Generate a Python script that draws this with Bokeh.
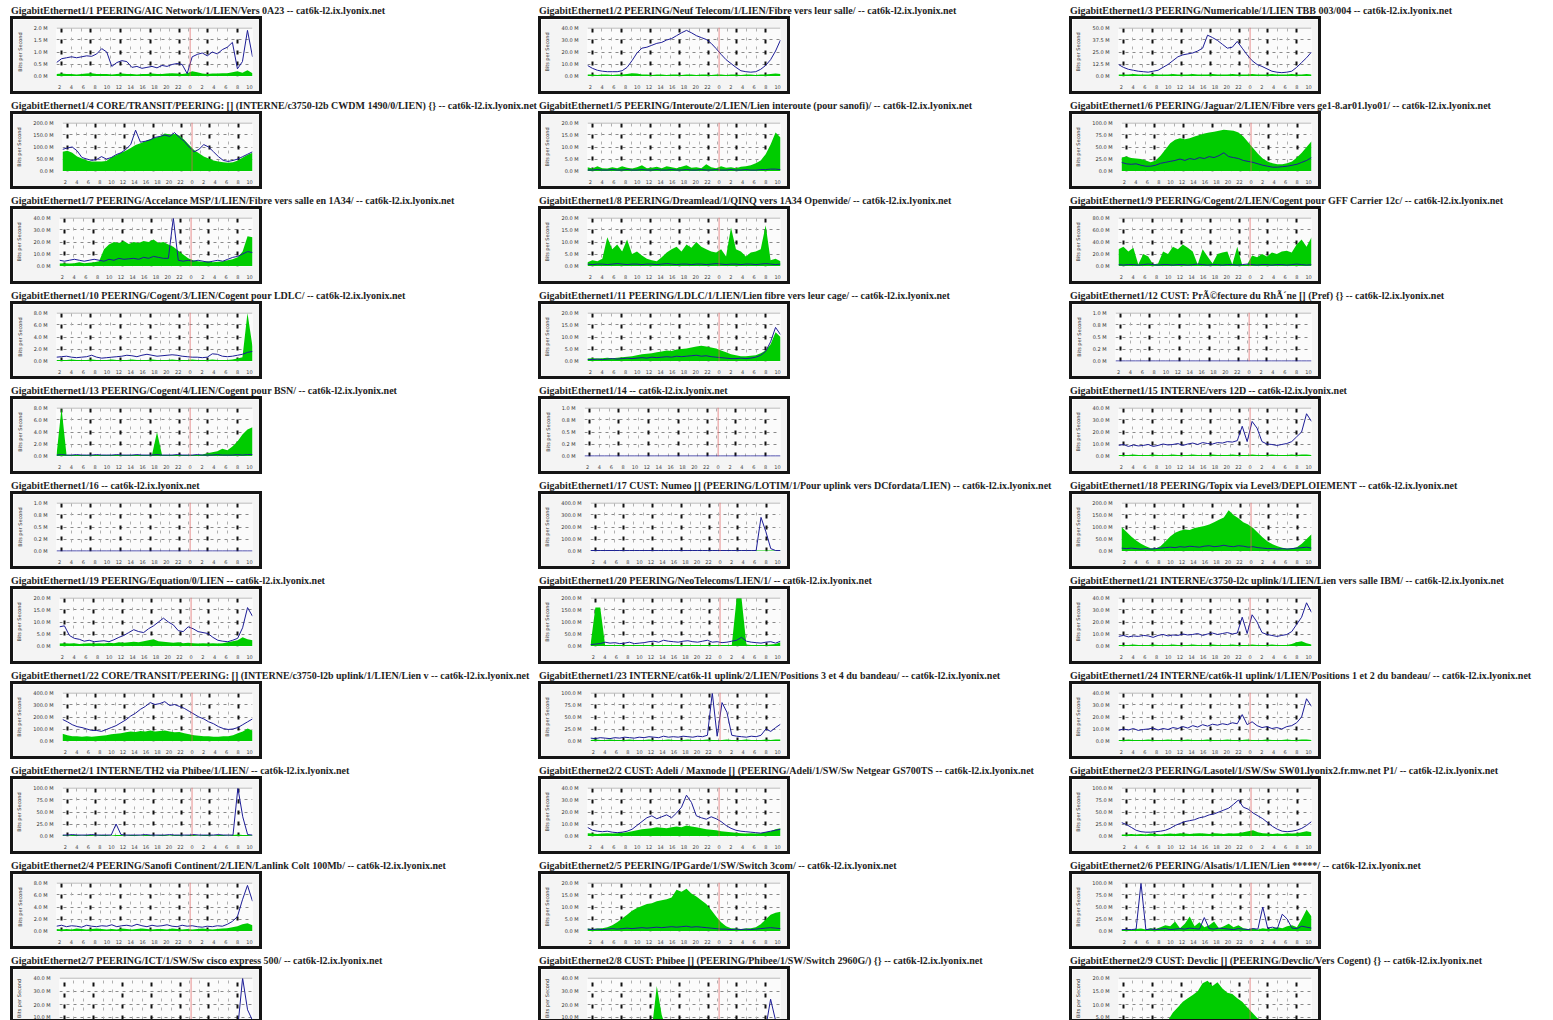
import numpy as np
from bokeh.plotting import figure
from bokeh.layouts import column, row, Spacer
from bokeh.models import Range1d, FixedTicker, Span, Grid, Div
from bokeh.embed import file_html
from bokeh.resources import INLINE

# ---------------- data ----------------
titles = [
    "GigabitEthernet1/1 PEERING/AIC Network/1/LIEN/Vers 0A23 -- cat6k-l2.ix.lyonix.net",
    "GigabitEthernet1/2 PEERING/Neuf Telecom/1/LIEN/Fibre vers leur salle/ -- cat6k-l2.ix.lyonix.net",
    "GigabitEthernet1/3 PEERING/Numericable/1/LIEN TBB 003/004 -- cat6k-l2.ix.lyonix.net",
    "GigabitEthernet1/4 CORE/TRANSIT/PEERING: [] (INTERNE/c3750-l2b CWDM 1490/0/LIEN) {} -- cat6k-l2.ix.lyonix.net",
    "GigabitEthernet1/5 PEERING/Interoute/2/LIEN/Lien interoute (pour sanofi)/ -- cat6k-l2.ix.lyonix.net",
    "GigabitEthernet1/6 PEERING/Jaguar/2/LIEN/Fibre vers ge1-8.ar01.lyo01/ -- cat6k-l2.ix.lyonix.net",
    "GigabitEthernet1/7 PEERING/Accelance MSP/1/LIEN/Fibre vers salle en 1A34/ -- cat6k-l2.ix.lyonix.net",
    "GigabitEthernet1/8 PEERING/Dreamlead/1/QINQ vers 1A34 Openwide/ -- cat6k-l2.ix.lyonix.net",
    "GigabitEthernet1/9 PEERING/Cogent/2/LIEN/Cogent pour GFF Carrier 12c/ -- cat6k-l2.ix.lyonix.net",
    "GigabitEthernet1/10 PEERING/Cogent/3/LIEN/Cogent pour LDLC/ -- cat6k-l2.ix.lyonix.net",
    "GigabitEthernet1/11 PEERING/LDLC/1/LIEN/Lien fibre vers leur cage/ -- cat6k-l2.ix.lyonix.net",
    "GigabitEthernet1/12 CUST: PrÃ©fecture du RhÃ´ne [] (Pref) {} -- cat6k-l2.ix.lyonix.net",
    "GigabitEthernet1/13 PEERING/Cogent/4/LIEN/Cogent pour BSN/ -- cat6k-l2.ix.lyonix.net",
    "GigabitEthernet1/14 -- cat6k-l2.ix.lyonix.net",
    "GigabitEthernet1/15 INTERNE/vers 12D -- cat6k-l2.ix.lyonix.net",
    "GigabitEthernet1/16 -- cat6k-l2.ix.lyonix.net",
    "GigabitEthernet1/17 CUST: Numeo [] (PEERING/LOTIM/1/Pour uplink vers DCfordata/LIEN) -- cat6k-l2.ix.lyonix.net",
    "GigabitEthernet1/18 PEERING/Topix via Level3/DEPLOIEMENT -- cat6k-l2.ix.lyonix.net",
    "GigabitEthernet1/19 PEERING/Equation/0/LIEN -- cat6k-l2.ix.lyonix.net",
    "GigabitEthernet1/20 PEERING/NeoTelecoms/LIEN/1/ -- cat6k-l2.ix.lyonix.net",
    "GigabitEthernet1/21 INTERNE/c3750-l2c uplink/1/LIEN/Lien vers salle IBM/ -- cat6k-l2.ix.lyonix.net",
    "GigabitEthernet1/22 CORE/TRANSIT/PEERING: [] (INTERNE/c3750-l2b uplink/1/LIEN/Lien v -- cat6k-l2.ix.lyonix.net",
    "GigabitEthernet1/23 INTERNE/cat6k-l1 uplink/2/LIEN/Positions 3 et 4 du bandeau/ -- cat6k-l2.ix.lyonix.net",
    "GigabitEthernet1/24 INTERNE/cat6k-l1 uplink/1/LIEN/Positions 1 et 2 du bandeau/ -- cat6k-l2.ix.lyonix.net",
    "GigabitEthernet2/1 INTERNE/TH2 via Phibee/1/LIEN/ -- cat6k-l2.ix.lyonix.net",
    "GigabitEthernet2/2 CUST: Adeli / Maxnode [] (PEERING/Adeli/1/SW/Sw Netgear GS700TS -- cat6k-l2.ix.lyonix.net",
    "GigabitEthernet2/3 PEERING/Lasotel/1/SW/Sw SW01.lyonix2.fr.mw.net P1/ -- cat6k-l2.ix.lyonix.net",
    "GigabitEthernet2/4 PEERING/Sanofi Continent/2/LIEN/Lanlink Colt 100Mb/ -- cat6k-l2.ix.lyonix.net",
    "GigabitEthernet2/5 PEERING/IPGarde/1/SW/Switch 3com/ -- cat6k-l2.ix.lyonix.net",
    "GigabitEthernet2/6 PEERING/Alsatis/1/LIEN/Lien *****/ -- cat6k-l2.ix.lyonix.net",
    "GigabitEthernet2/7 PEERING/ICT/1/SW/Sw cisco express 500/ -- cat6k-l2.ix.lyonix.net",
    "GigabitEthernet2/8 CUST: Phibee [] (PEERING/Phibee/1/SW/Switch 2960G/) {} -- cat6k-l2.ix.lyonix.net",
    "GigabitEthernet2/9 CUST: Devclic [] (PEERING/Devclic/Vers Cogent) {} -- cat6k-l2.ix.lyonix.net",
]

# maximum of each graph (Mbit/s) -> y tick labels
panel_max = [2.0, 40.0, 50.0, 200.0, 20.0, 100.0, 40.0, 20.0, 80.0, 8.0, 20.0,
             1.0, 8.0, 1.0, 40.0, 1.0, 400.0, 200.0, 20.0, 200.0, 40.0, 400.0,
             100.0, 40.0, 100.0, 40.0, 100.0, 8.0, 20.0, 100.0, 40.0, 40.0, 20.0]

# x axis: clock hours (midnight = 24), labels every 2 hours
hour_ticks = [2, 4, 6, 8, 10, 12, 14, 16, 18, 20, 22, 24, 26, 28, 30, 32, 34]
hour_labels = ["2", "4", "6", "8", "10", "12", "14", "16", "18", "20", "22",
               "0", "2", "4", "6", "8", "10"]
day_start = 24
bold_grid_hours = [2.3, 7.3, 12.3, 17.3, 22.2, 27.0, 32.0]
y_ticks = [0, 25, 50, 75, 100]

# traffic as percent of the graph maximum, 40 samples over the day (in = green, out = blue)
in_1_1 = [4, 5, 4, 4, 3, 4, 5, 6, 4, 4, 4, 3, 4, 5, 4, 4, 3, 4, 4, 5,
          4, 4, 5, 6, 5, 4, 6, 10, 8, 5, 4, 5, 5, 6, 6, 8, 10, 7, 12, 6]
out_1_1 = [28, 36, 38, 40, 38, 40, 42, 41, 46, 57, 50, 20, 28, 32, 30, 18, 20, 16, 18, 20,
           17, 22, 20, 24, 26, 24, 5, 40, 45, 48, 42, 50, 46, 55, 60, 70, 15, 30, 95, 40]
in_1_2 = [3, 3, 2, 3, 3, 2, 3, 3, 4, 6, 5, 3, 3, 2, 3, 3, 2, 3, 3, 2,
          3, 3, 2, 3, 3, 2, 3, 3, 2, 3, 3, 2, 3, 3, 2, 3, 3, 4, 5, 4]
out_1_2 = [22, 16, 12, 10, 9, 9, 9, 11, 18, 32, 48, 58, 60, 64, 68, 70, 75, 78, 84, 90,
           95, 90, 84, 80, 76, 68, 57, 45, 34, 26, 18, 11, 9, 8, 9, 14, 22, 34, 52, 75]
in_1_3 = [3, 3, 3, 4, 3, 3, 3, 4, 3, 3, 3, 4, 3, 3, 3, 4, 3, 3, 3, 4,
          3, 3, 3, 4, 3, 3, 3, 4, 3, 3, 3, 4, 3, 3, 3, 4, 3, 3, 4, 3]
out_1_3 = [24, 18, 14, 12, 10, 9, 8, 10, 12, 18, 24, 32, 40, 44, 46, 48, 52, 58, 85, 80,
           74, 66, 58, 60, 72, 58, 44, 32, 24, 20, 15, 10, 8, 7, 8, 10, 18, 28, 38, 50]
in_1_4 = [40, 42, 38, 30, 26, 22, 20, 20, 20, 21, 28, 33, 38, 42, 48, 54, 58, 62, 66, 69,
          72, 78, 76, 77, 74, 65, 54, 44, 37, 30, 26, 22, 20, 18, 17, 18, 22, 28, 34, 38]
out_1_4 = [45, 48, 50, 42, 28, 25, 22, 24, 30, 25, 28, 34, 38, 45, 55, 85, 60, 62, 65, 70,
           72, 75, 72, 80, 70, 62, 50, 40, 45, 55, 50, 40, 30, 22, 20, 22, 25, 30, 35, 40]
in_1_5 = [8, 5, 10, 6, 5, 8, 6, 10, 7, 5, 8, 12, 6, 7, 9, 6, 10, 8, 6, 9,
          12, 7, 8, 6, 14, 8, 6, 10, 7, 8, 6, 9, 10, 12, 16, 22, 35, 55, 80, 70]
out_1_5 = [2, 2, 3, 2, 2, 3, 2, 2, 3, 2, 2, 3, 2, 2, 3, 2, 2, 3, 2, 2,
           3, 2, 2, 3, 2, 2, 3, 2, 2, 3, 2, 2, 3, 2, 2, 3, 3, 4, 4, 3]
in_1_6 = [28, 30, 27, 26, 25, 22, 18, 22, 32, 45, 58, 65, 68, 66, 68, 72, 75, 78, 80, 82,
          84, 86, 85, 84, 80, 72, 60, 48, 36, 26, 20, 16, 14, 14, 16, 20, 28, 38, 50, 62]
out_1_6 = [18, 15, 14, 15, 12, 10, 10, 12, 16, 18, 20, 22, 25, 22, 26, 24, 28, 26, 30, 28,
           32, 38, 30, 28, 26, 22, 20, 18, 15, 12, 10, 8, 8, 9, 10, 12, 14, 18, 22, 28]
in_1_7 = [5, 6, 5, 6, 8, 6, 7, 8, 10, 35, 45, 50, 48, 52, 46, 50, 48, 52, 50, 55,
          48, 50, 45, 40, 32, 24, 16, 12, 10, 9, 10, 8, 9, 10, 12, 14, 18, 30, 62, 60]
out_1_7 = [12, 10, 12, 14, 12, 10, 12, 14, 12, 10, 14, 12, 16, 14, 15, 16, 14, 18, 16, 20,
           18, 16, 16, 100, 12, 10, 12, 10, 12, 10, 8, 10, 12, 10, 14, 18, 20, 25, 30, 28]
in_1_8 = [8, 12, 10, 15, 60, 35, 45, 30, 55, 25, 30, 22, 15, 12, 10, 18, 28, 35, 40, 30,
          45, 38, 50, 40, 35, 30, 28, 35, 20, 80, 35, 30, 20, 28, 30, 35, 85, 12, 15, 10]
out_1_8 = [4, 3, 4, 4, 3, 4, 5, 4, 3, 4, 4, 3, 4, 4, 3, 4, 5, 4, 3, 4,
           4, 3, 4, 4, 3, 4, 5, 4, 3, 4, 4, 3, 4, 4, 3, 4, 5, 4, 3, 4]
in_1_9 = [35, 40, 30, 38, 3, 25, 20, 3, 5, 30, 25, 40, 35, 45, 38, 30, 3, 35, 20, 5,
          25, 28, 30, 3, 40, 2, 3, 22, 18, 25, 20, 28, 25, 30, 32, 28, 45, 55, 40, 60]
out_1_9 = [3, 2, 3, 3, 2, 3, 4, 3, 2, 3, 3, 2, 3, 3, 2, 3, 4, 3, 2, 3,
           3, 2, 3, 3, 2, 3, 4, 3, 2, 3, 3, 2, 3, 3, 2, 3, 4, 3, 2, 3]
in_1_10 = [2, 2, 2, 3, 2, 2, 2, 3, 2, 2, 2, 3, 2, 2, 2, 3, 2, 2, 2, 3,
           2, 2, 2, 3, 2, 2, 2, 3, 2, 2, 2, 3, 2, 2, 2, 3, 5, 8, 100, 30]
out_1_10 = [8, 9, 10, 8, 7, 8, 9, 12, 8, 6, 7, 8, 9, 10, 12, 11, 9, 12, 14, 12,
            10, 11, 12, 13, 12, 10, 9, 8, 8, 7, 8, 15, 14, 10, 9, 10, 12, 14, 18, 20]
in_1_11 = [5, 6, 5, 6, 7, 6, 7, 8, 9, 10, 12, 14, 15, 16, 18, 20, 22, 21, 24, 25,
           26, 28, 30, 32, 30, 28, 26, 22, 18, 14, 12, 10, 10, 11, 12, 16, 22, 35, 60, 50]
out_1_11 = [3, 3, 4, 3, 4, 5, 4, 5, 6, 5, 6, 7, 6, 8, 7, 8, 9, 8, 10, 9,
            10, 11, 12, 10, 11, 9, 8, 7, 6, 5, 5, 6, 5, 6, 8, 12, 20, 40, 70, 55]
in_1_12 = [0, 0, 0, 0, 0, 0, 0, 0, 0, 0, 0, 0, 0, 0, 0, 0, 0, 0, 0, 0,
           0, 0, 0, 0, 0, 0, 0, 0, 0, 0, 0, 0, 0, 0, 0, 0, 0, 0, 0, 0]
out_1_12 = [0, 0, 0, 0, 0, 0, 0, 0, 0, 0, 0, 0, 0, 0, 0, 0, 0, 0, 0, 0,
            0, 0, 0, 0, 0, 0, 0, 0, 0, 0, 0, 0, 0, 0, 0, 0, 0, 0, 0, 0]
in_1_13 = [2, 100, 2, 2, 2, 2, 2, 2, 2, 2, 2, 2, 2, 2, 2, 2, 2, 2, 2, 2,
           50, 2, 2, 2, 2, 2, 2, 2, 2, 3, 6, 8, 10, 15, 12, 20, 30, 45, 55, 60]
out_1_13 = [2, 3, 2, 2, 3, 2, 2, 2, 3, 2, 2, 2, 3, 2, 2, 2, 3, 2, 2, 2,
            3, 2, 2, 2, 3, 2, 2, 2, 3, 2, 2, 2, 3, 2, 2, 2, 3, 2, 3, 3]
in_1_14 = [0, 0, 0, 0, 0, 0, 0, 0, 0, 0, 0, 0, 0, 0, 0, 0, 0, 0, 0, 0,
           0, 0, 0, 0, 0, 0, 0, 0, 0, 0, 0, 0, 0, 0, 0, 0, 0, 0, 0, 0]
out_1_14 = [0, 0, 0, 0, 0, 0, 0, 0, 0, 0, 0, 0, 0, 0, 0, 0, 0, 0, 0, 0,
            0, 0, 0, 0, 0, 0, 0, 0, 0, 0, 0, 0, 0, 0, 0, 0, 0, 0, 0, 0]
in_1_15 = [2, 2, 2, 3, 2, 2, 2, 3, 2, 2, 2, 3, 2, 2, 2, 3, 2, 2, 2, 3,
           2, 2, 2, 3, 2, 2, 2, 3, 2, 2, 2, 3, 2, 2, 2, 3, 2, 3, 3, 2]
out_1_15 = [22, 24, 20, 23, 21, 22, 24, 20, 22, 25, 23, 24, 26, 22, 25, 27, 24, 28, 26, 25,
            28, 27, 30, 29, 32, 62, 30, 72, 58, 30, 25, 24, 22, 24, 26, 30, 40, 50, 88, 72]
in_1_16 = [0, 0, 0, 0, 0, 0, 0, 0, 0, 0, 0, 0, 0, 0, 0, 0, 0, 0, 0, 0,
           0, 0, 0, 0, 0, 0, 0, 0, 0, 0, 0, 0, 0, 0, 0, 0, 0, 0, 0, 0]
out_1_16 = [0, 0, 0, 0, 0, 0, 0, 0, 0, 0, 0, 0, 0, 0, 0, 0, 0, 0, 0, 0,
            0, 0, 0, 0, 0, 0, 0, 0, 0, 0, 0, 0, 0, 0, 0, 0, 0, 0, 0, 0]
in_1_17 = [1, 1, 1, 1, 1, 1, 1, 1, 1, 1, 1, 1, 1, 1, 1, 1, 1, 1, 1, 1,
           1, 1, 1, 1, 1, 1, 1, 1, 1, 1, 1, 1, 1, 1, 1, 1, 1, 1, 1, 1]
out_1_17 = [1, 1, 1, 1, 1, 1, 1, 1, 1, 1, 1, 1, 1, 1, 1, 1, 1, 1, 1, 1,
            1, 1, 1, 1, 1, 1, 1, 1, 1, 1, 1, 1, 1, 1, 1, 70, 40, 5, 1, 1]
in_1_18 = [50, 40, 30, 22, 15, 10, 6, 5, 10, 20, 30, 38, 42, 45, 44, 48, 50, 52, 55, 60,
           65, 70, 85, 75, 68, 60, 55, 48, 38, 28, 20, 14, 10, 7, 5, 6, 8, 15, 25, 35]
out_1_18 = [6, 5, 6, 5, 4, 5, 4, 5, 6, 7, 8, 7, 9, 8, 10, 9, 8, 10, 11, 9,
            10, 12, 10, 9, 11, 10, 8, 9, 7, 6, 5, 5, 4, 5, 4, 5, 6, 7, 8, 6]
in_1_19 = [5, 6, 5, 6, 4, 5, 6, 5, 6, 5, 7, 6, 8, 7, 8, 9, 8, 10, 12, 14,
           10, 9, 8, 7, 8, 6, 7, 6, 5, 6, 5, 6, 5, 6, 8, 10, 12, 18, 14, 12]
out_1_19 = [40, 42, 22, 16, 14, 10, 12, 9, 10, 11, 9, 13, 18, 22, 28, 34, 30, 28, 36, 42,
            50, 58, 50, 44, 32, 30, 40, 36, 30, 28, 26, 18, 12, 10, 9, 12, 16, 38, 80, 62]
in_1_20 = [2, 80, 80, 2, 2, 2, 2, 2, 2, 2, 2, 2, 2, 2, 2, 2, 2, 2, 2, 2,
           2, 2, 2, 2, 2, 2, 2, 2, 2, 2, 100, 100, 3, 2, 2, 2, 2, 3, 4, 8]
out_1_20 = [3, 4, 5, 8, 6, 7, 5, 6, 8, 5, 6, 7, 9, 10, 8, 12, 10, 9, 8, 10,
            11, 9, 8, 10, 12, 8, 9, 7, 8, 10, 12, 18, 10, 8, 7, 6, 8, 9, 6, 10]
in_1_21 = [2, 2, 2, 3, 2, 2, 2, 3, 2, 2, 2, 3, 2, 2, 2, 3, 2, 2, 2, 3,
           2, 2, 2, 3, 2, 2, 2, 3, 2, 2, 2, 3, 2, 2, 2, 4, 8, 10, 6, 3]
out_1_21 = [20, 22, 19, 21, 20, 22, 21, 18, 22, 24, 21, 23, 22, 25, 23, 24, 26, 22, 25, 27,
            24, 26, 28, 25, 27, 60, 26, 65, 50, 28, 24, 22, 20, 22, 24, 30, 45, 60, 90, 70]
in_1_22 = [15, 12, 10, 10, 9, 10, 9, 10, 11, 12, 14, 15, 16, 18, 20, 19, 21, 20, 22, 20,
           21, 22, 20, 18, 19, 16, 14, 12, 11, 10, 10, 9, 9, 10, 10, 12, 16, 20, 26, 22]
out_1_22 = [45, 40, 34, 30, 28, 25, 22, 22, 20, 24, 28, 32, 38, 44, 52, 58, 66, 72, 80, 76,
            78, 82, 74, 76, 72, 68, 62, 56, 50, 46, 40, 36, 30, 26, 24, 25, 28, 34, 40, 46]
in_1_23 = [2, 3, 2, 2, 3, 2, 2, 2, 3, 2, 2, 2, 3, 2, 2, 2, 3, 2, 2, 2,
           3, 2, 2, 2, 3, 2, 2, 2, 3, 2, 2, 2, 3, 2, 2, 2, 3, 2, 3, 3]
out_1_23 = [6, 5, 7, 6, 5, 7, 6, 8, 7, 6, 8, 7, 9, 8, 7, 10, 8, 9, 8, 10,
            9, 8, 10, 9, 12, 100, 10, 80, 60, 12, 10, 9, 8, 10, 9, 12, 25, 20, 28, 35]
in_1_24 = [2, 2, 3, 2, 2, 2, 3, 2, 2, 2, 3, 2, 2, 2, 3, 2, 2, 2, 3, 2,
           2, 2, 3, 2, 2, 2, 3, 2, 2, 2, 3, 2, 2, 2, 3, 2, 2, 3, 3, 2]
out_1_24 = [22, 25, 23, 26, 22, 24, 25, 27, 23, 26, 24, 28, 26, 30, 27, 32, 29, 34, 31, 35,
            33, 36, 34, 38, 36, 55, 34, 40, 32, 28, 30, 26, 28, 25, 30, 32, 38, 50, 88, 72]
in_2_1 = [2, 1, 2, 2, 1, 2, 2, 1, 2, 2, 1, 2, 2, 1, 2, 2, 1, 2, 2, 1,
          2, 2, 1, 2, 2, 1, 2, 2, 1, 2, 2, 1, 2, 2, 1, 2, 3, 2, 2, 1]
out_2_1 = [2, 2, 3, 2, 2, 2, 3, 2, 2, 2, 2, 25, 3, 2, 2, 2, 2, 3, 2, 2,
           2, 2, 3, 2, 2, 2, 2, 3, 2, 2, 2, 2, 3, 2, 2, 2, 100, 40, 3, 2]
in_2_2 = [6, 5, 4, 5, 6, 5, 6, 7, 8, 10, 12, 14, 15, 16, 18, 17, 16, 18, 20, 18,
          22, 20, 18, 16, 14, 13, 12, 10, 9, 8, 7, 6, 5, 6, 5, 6, 8, 10, 14, 16]
out_2_2 = [18, 12, 10, 9, 10, 8, 7, 8, 10, 14, 22, 30, 38, 42, 36, 40, 44, 38, 48, 60,
           85, 70, 42, 38, 35, 40, 36, 30, 22, 16, 12, 10, 9, 8, 7, 6, 8, 10, 12, 14]
in_2_3 = [3, 3, 4, 3, 4, 3, 5, 4, 3, 4, 5, 4, 6, 5, 4, 5, 6, 5, 4, 6,
          5, 4, 6, 5, 6, 8, 10, 12, 8, 6, 5, 4, 5, 4, 6, 5, 6, 8, 10, 8]
out_2_3 = [28, 24, 18, 12, 9, 8, 8, 9, 10, 12, 16, 22, 26, 30, 32, 34, 38, 40, 44, 46,
           50, 54, 58, 66, 75, 60, 56, 48, 42, 36, 28, 20, 14, 10, 9, 10, 12, 16, 22, 30]
in_2_4 = [4, 3, 4, 3, 5, 4, 3, 4, 5, 4, 3, 4, 3, 5, 4, 3, 4, 5, 4, 3,
          4, 4, 3, 5, 4, 3, 4, 3, 4, 5, 4, 3, 4, 5, 6, 8, 10, 14, 16, 12]
out_2_4 = [10, 12, 9, 11, 10, 8, 12, 10, 9, 11, 10, 13, 9, 11, 12, 10, 14, 11, 9, 12,
           10, 11, 13, 10, 9, 12, 10, 11, 9, 8, 10, 9, 11, 10, 14, 20, 30, 65, 95, 62]
in_2_5 = [5, 4, 5, 6, 8, 12, 18, 26, 34, 42, 48, 52, 56, 58, 62, 64, 66, 70, 86, 82,
          88, 78, 72, 64, 56, 44, 30, 18, 10, 6, 5, 4, 5, 6, 8, 14, 24, 34, 38, 40]
out_2_5 = [4, 3, 4, 3, 4, 5, 4, 5, 6, 5, 6, 7, 6, 7, 8, 7, 8, 9, 8, 9,
           10, 8, 9, 8, 7, 6, 5, 4, 4, 3, 4, 3, 4, 3, 4, 5, 6, 7, 6, 5]
in_2_6 = [2, 3, 2, 4, 5, 3, 6, 4, 8, 12, 10, 20, 6, 15, 30, 10, 18, 8, 12, 20,
          6, 10, 15, 8, 12, 6, 4, 5, 3, 6, 4, 5, 8, 6, 10, 12, 8, 25, 45, 30]
out_2_6 = [3, 3, 3, 4, 100, 3, 4, 3, 4, 5, 3, 4, 5, 4, 6, 5, 4, 28, 5, 4,
           6, 5, 4, 3, 5, 4, 3, 5, 4, 50, 6, 8, 5, 35, 25, 6, 5, 10, 8, 6]
in_2_7 = [2, 2, 3, 2, 2, 2, 3, 2, 2, 2, 3, 2, 2, 2, 3, 2, 2, 2, 3, 2,
          2, 2, 3, 2, 2, 2, 3, 2, 2, 2, 3, 2, 2, 2, 3, 2, 4, 6, 10, 5]
out_2_7 = [2, 2, 2, 3, 2, 2, 2, 3, 2, 2, 2, 3, 2, 2, 2, 3, 2, 2, 2, 3,
           2, 2, 2, 3, 2, 2, 2, 3, 2, 2, 2, 3, 2, 2, 2, 3, 4, 100, 40, 20]
in_2_8 = [2, 3, 2, 2, 3, 2, 2, 3, 2, 2, 3, 2, 2, 3, 85, 30, 3, 2, 2, 3,
          2, 2, 3, 2, 2, 3, 2, 2, 3, 2, 2, 3, 2, 2, 3, 2, 2, 3, 2, 2]
out_2_8 = [3, 3, 4, 3, 3, 4, 3, 3, 4, 3, 3, 4, 3, 3, 4, 3, 3, 4, 3, 3,
           4, 3, 3, 4, 3, 3, 4, 3, 3, 4, 3, 3, 4, 3, 3, 4, 5, 60, 20, 4]
in_2_9 = [3, 4, 3, 5, 4, 5, 6, 5, 8, 10, 20, 35, 45, 55, 62, 68, 75, 90, 95, 85,
          92, 80, 72, 70, 62, 55, 45, 35, 25, 18, 12, 8, 6, 5, 4, 5, 4, 5, 6, 5]
out_2_9 = [4, 4, 5, 4, 4, 5, 4, 4, 5, 4, 4, 5, 4, 4, 5, 4, 4, 5, 4, 4,
           5, 4, 4, 5, 4, 4, 5, 4, 4, 5, 4, 4, 5, 4, 4, 5, 4, 4, 5, 4]

in_series = [in_1_1, in_1_2, in_1_3, in_1_4, in_1_5, in_1_6, in_1_7, in_1_8, in_1_9,
             in_1_10, in_1_11, in_1_12, in_1_13, in_1_14, in_1_15, in_1_16, in_1_17, in_1_18,
             in_1_19, in_1_20, in_1_21, in_1_22, in_1_23, in_1_24, in_2_1, in_2_2, in_2_3,
             in_2_4, in_2_5, in_2_6, in_2_7, in_2_8, in_2_9]
out_series = [out_1_1, out_1_2, out_1_3, out_1_4, out_1_5, out_1_6, out_1_7, out_1_8, out_1_9,
              out_1_10, out_1_11, out_1_12, out_1_13, out_1_14, out_1_15, out_1_16, out_1_17, out_1_18,
              out_1_19, out_1_20, out_1_21, out_1_22, out_1_23, out_1_24, out_2_1, out_2_2, out_2_3,
              out_2_4, out_2_5, out_2_6, out_2_7, out_2_8, out_2_9]

# ---------------- layout / style ----------------
X0, X1 = 1.5, 34.5
Y0, Y1 = -1.0, 101.0
LEFT_PAD = 10
COL_W = [528, 531, 482]
RING = 3                      # thickness of the black frame around each graph
CHART_W = 246                 # inside the ring (252 with ring)
TITLE_H = 16
CHART_H = 72                  # inside the ring (78 with ring)
LAST_CHART_H = 50
ROW_GAP = 1
B_LEFT, B_RIGHT, B_TOP, B_BOTTOM = 40, 7, 8, 10
FRAME_H = CHART_H - B_TOP - B_BOTTOM
IN_COLOR = "#00cc00"
OUT_COLOR = "#1c1c96"
AXIS_FONT = "DejaVu Sans"


def make_title(text, w):
    return Div(text=text, width=w, height=TITLE_H,
               styles={"font-family": "'Liberation Serif', serif", "font-size": "10px",
                       "font-weight": "bold", "color": "#1e1e1e", "line-height": "22px",
                       "white-space": "nowrap", "overflow": "hidden", "padding-left": "1px",
                       "margin": "0px"})


def make_chart(vin, vout, vmax, last=False):
    h = LAST_CHART_H if last else CHART_H
    if last:
        visible = (LAST_CHART_H - B_TOP) / FRAME_H * (Y1 - Y0)
        yr = Range1d(Y1 - visible, Y1)
    else:
        yr = Range1d(Y0, Y1)
    p = figure(width=CHART_W, height=h, toolbar_location=None, output_backend="svg",
               x_range=Range1d(X0, X1), y_range=yr,
               min_border_left=B_LEFT, min_border_right=B_RIGHT, min_border_top=B_TOP,
               min_border_bottom=0 if last else B_BOTTOM,
               x_axis_location=None if last else "below")
    p.border_fill_color = "#f4f4f4"
    p.background_fill_color = "#fbfbfb"
    p.outline_line_color = None
    p.styles = {"outline": "%dpx solid #151515" % RING, "outline-offset": "0px"}

    # grids
    p.xgrid.grid_line_color = None
    p.ygrid.ticker = FixedTicker(ticks=y_ticks[1:-1])
    p.ygrid.grid_line_color = "#8a8a8a"
    p.ygrid.grid_line_dash = "3 4"
    light = []
    for a, b in zip(bold_grid_hours[:-1], bold_grid_hours[1:]):
        light += [a + (b - a) / 3.0, a + 2 * (b - a) / 3.0]
    p.add_layout(Grid(dimension=0, ticker=FixedTicker(ticks=light),
                      grid_line_color="#b0b0b0", grid_line_dash="3 6", grid_line_width=1))
    p.add_layout(Grid(dimension=0, ticker=FixedTicker(ticks=bold_grid_hours),
                      grid_line_color="#111111", grid_line_dash="4 7", grid_line_width=2))
    p.add_layout(Span(location=100, dimension="width", line_color="#a0a0a0", line_width=1))
    p.add_layout(Span(location=day_start, dimension="height", line_color="#e06060",
                      line_width=1, line_alpha=0.7))

    hrs = np.linspace(X0, X1, len(vin))
    p.varea(x=hrs, y1=np.zeros(len(vin)), y2=np.array(vin, dtype=float), fill_color=IN_COLOR)
    p.line(hrs, np.array(vout, dtype=float), line_color=OUT_COLOR, line_width=1)

    # y axis
    p.yaxis.ticker = FixedTicker(ticks=y_ticks)
    p.yaxis.major_label_overrides = {t: "%.1f M" % (vmax * t / 100.0) for t in y_ticks}
    p.yaxis.major_label_text_font = AXIS_FONT
    p.yaxis.major_label_text_font_size = "5px"
    p.yaxis.major_label_text_color = "#333333"
    p.yaxis.major_label_standoff = 3
    p.yaxis.major_tick_line_color = None
    p.yaxis.minor_tick_line_color = None
    p.yaxis.axis_line_color = None
    p.yaxis.axis_label = "Bits per Second"
    p.yaxis.axis_label_text_font = AXIS_FONT
    p.yaxis.axis_label_text_font_size = "5px"
    p.yaxis.axis_label_text_font_style = "normal"
    p.yaxis.axis_label_text_color = "#333333"
    p.yaxis.axis_label_standoff = 8
    if not last:
        p.xaxis.ticker = FixedTicker(ticks=hour_ticks)
        p.xaxis.major_label_overrides = dict(zip(hour_ticks, hour_labels))
        p.xaxis.major_label_text_font = AXIS_FONT
        p.xaxis.major_label_text_font_size = "5px"
        p.xaxis.major_label_text_color = "#444444"
        p.xaxis.major_label_standoff = 2
        p.xaxis.major_tick_line_color = None
        p.xaxis.minor_tick_line_color = None
        p.xaxis.axis_line_color = None
    return p


rows = []
n_rows = 11
for r in range(n_rows):
    last = (r == n_rows - 1)
    cells = [Spacer(width=LEFT_PAD, height=TITLE_H)]
    for c in range(3):
        i = 3 * r + c
        tf = make_title(titles[i], COL_W[c])
        cf = make_chart(in_series[i], out_series[i], panel_max[i], last=last)
        parts = [tf, Spacer(width=10, height=RING), row(Spacer(width=RING, height=10), cf, spacing=0)]
        if not last:
            parts.append(Spacer(width=10, height=RING + ROW_GAP))
        cells.append(column(*parts, spacing=0))
    rows.append(row(*cells, spacing=0))

layout = column(*rows, spacing=0)
open("out.html", "w").write(file_html(layout, INLINE))
